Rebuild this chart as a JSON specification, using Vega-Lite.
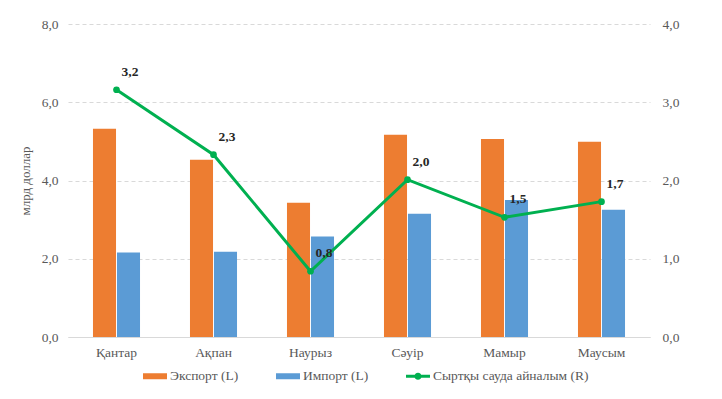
{
  "$schema": "https://vega.github.io/schema/vega-lite/v6.json",
  "autosize": "none",
  "width": 582,
  "height": 313,
  "padding": {"left": 68, "top": 24, "right": 72, "bottom": 62},
  "background": "white",
  "config": {
    "locale": {"number": {"decimal": ",", "thousands": " ", "grouping": [3], "currency": ["", ""]}},
    "view": {"stroke": null},
    "font": "Liberation Serif",
    "axis": {"labelFont": "Liberation Serif", "titleFont": "Liberation Serif", "labelColor": "#595959", "titleColor": "#595959", "labelFontSize": 13.5, "titleFontSize": 13, "titleFontWeight": "normal"}
  },
  "data": {"values": [
    {"month": "Қантар", "series": "Экспорт (L)", "value": 5.32},
    {"month": "Ақпан", "series": "Экспорт (L)", "value": 4.53},
    {"month": "Наурыз", "series": "Экспорт (L)", "value": 3.43},
    {"month": "Сәуір", "series": "Экспорт (L)", "value": 5.17},
    {"month": "Мамыр", "series": "Экспорт (L)", "value": 5.06},
    {"month": "Маусым", "series": "Экспорт (L)", "value": 4.99},
    {"month": "Қантар", "series": "Импорт (L)", "value": 2.16},
    {"month": "Ақпан", "series": "Импорт (L)", "value": 2.18},
    {"month": "Наурыз", "series": "Импорт (L)", "value": 2.57},
    {"month": "Сәуір", "series": "Импорт (L)", "value": 3.15},
    {"month": "Мамыр", "series": "Импорт (L)", "value": 3.50},
    {"month": "Маусым", "series": "Импорт (L)", "value": 3.25},
    {"month": "Қантар", "series": "Сыртқы сауда айналым (R)", "value": 3.16},
    {"month": "Ақпан", "series": "Сыртқы сауда айналым (R)", "value": 2.33},
    {"month": "Наурыз", "series": "Сыртқы сауда айналым (R)", "value": 0.84},
    {"month": "Сәуір", "series": "Сыртқы сауда айналым (R)", "value": 2.01},
    {"month": "Мамыр", "series": "Сыртқы сауда айналым (R)", "value": 1.53},
    {"month": "Маусым", "series": "Сыртқы сауда айналым (R)", "value": 1.73}
  ]},
  "encoding": {
    "x": {
      "field": "month", "type": "nominal",
      "sort": ["Қантар", "Ақпан", "Наурыз", "Сәуір", "Мамыр", "Маусым"],
      "scale": {"paddingInner": 0.515, "paddingOuter": 0.2575},
      "axis": {"title": null, "labelAngle": 0, "ticks": false, "domainColor": "#D9D9D9", "labelPadding": 8}
    }
  },
  "layer": [
    {
      "transform": [{"filter": "datum.series !== 'Сыртқы сауда айналым (R)'"}],
      "mark": {"type": "bar"},
      "encoding": {
        "xOffset": {"field": "series", "type": "nominal", "sort": ["Экспорт (L)", "Импорт (L)"], "scale": {"paddingInner": 0.04}},
        "y": {
          "field": "value", "type": "quantitative",
          "scale": {"domain": [0, 8], "nice": false},
          "axis": {"title": "млрд доллар", "values": [0, 2, 4, 6, 8], "format": ".1f", "domain": false, "ticks": false, "gridColor": "#D9D9D9", "gridDash": [4, 3], "labelPadding": 10, "titlePadding": 9}
        },
        "color": {
          "field": "series", "type": "nominal",
          "scale": {"domain": ["Экспорт (L)", "Импорт (L)", "Сыртқы сауда айналым (R)"], "range": ["#ED7D31", "#5B9BD5", "#00B050"]},
          "legend": {
            "orient": "none", "legendX": 75, "legendY": 340, "direction": "horizontal", "title": null,
            "columnPadding": 37, "symbolSize": 576, "labelOffset": 3,
            "labelFont": "Liberation Serif", "labelFontSize": 13.5, "labelColor": "#595959",
            "encode": {"symbols": {"update": {
              "shape": {"signal": "datum.value === 'Сыртқы сауда айналым (R)' ? 'M-1,-0.125L1,-0.125L1,0.125L-1,0.125Z M0.3,0A0.3,0.3 0 1,1 -0.3,0A0.3,0.3 0 1,1 0.3,0' : 'M-1,-0.25L1,-0.25L1,0.25L-1,0.25Z'"},
              "fill": {"signal": "datum.value === 'Экспорт (L)' ? '#ED7D31' : datum.value === 'Импорт (L)' ? '#5B9BD5' : '#00B050'"},
              "strokeWidth": {"value": 0},
              "opacity": {"value": 1}
            }}}
          }
        }
      }
    },
    {
      "transform": [{"filter": "datum.series === 'Сыртқы сауда айналым (R)'"}],
      "encoding": {
        "y": {
          "field": "value", "type": "quantitative",
          "scale": {"domain": [0, 4], "nice": false},
          "axis": {"orient": "right", "title": null, "values": [0, 1, 2, 3, 4], "format": ".1f", "domain": false, "ticks": false, "grid": false, "labelPadding": 12}
        }
      },
      "layer": [
        {
          "mark": {"type": "line", "color": "#00B050", "strokeWidth": 3, "point": {"filled": true, "size": 45, "color": "#00B050"}}
        },
        {
          "mark": {"type": "text", "align": "left", "baseline": "middle", "dx": 5, "dy": -18, "fontWeight": "bold", "fontSize": 13.5, "font": "Liberation Serif", "color": "#262626"},
          "encoding": {"text": {"field": "value", "type": "quantitative", "format": ".1f"}}
        }
      ]
    }
  ],
  "resolve": {"scale": {"y": "independent"}}
}
